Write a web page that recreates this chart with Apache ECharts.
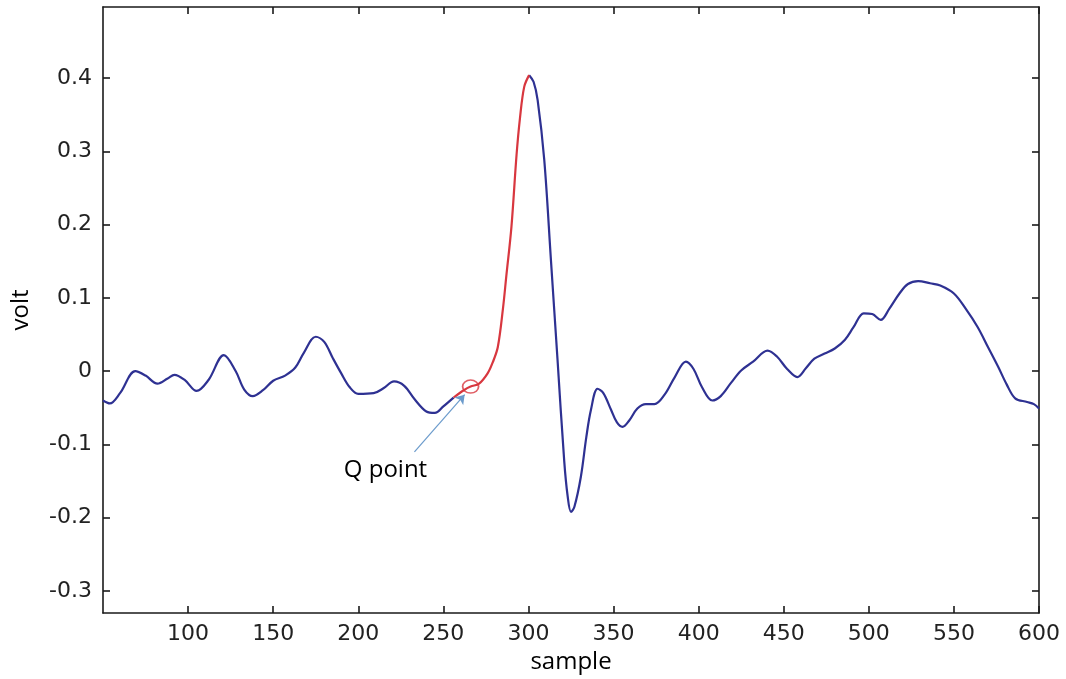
<!DOCTYPE html>
<html>
<head>
<meta charset="utf-8">
<script src="https://cdn.jsdelivr.net/npm/echarts@6/dist/echarts.min.js"></script>
<style>html,body{margin:0;padding:0;background:#fff;}#c{width:1066px;height:679px;}</style>
</head>
<body>
<div id="c"></div>
<script>
// sample index
const samples = [50,54,60,69,75,82,88,92,98,105,112,121,128,133,138,144,150,157,163,168,175,180,185,190,195,200,209,215,221,227,233,240,245,250,256,262,266,271,276,279,282,285,287,290,293,295,297.5,300.4,303,305.4,309.3,313.2,317.1,321,323,325,327,330.8,334,336.7,340.6,344,348.4,352,355.3,359,364,369,374,380,386,392.5,397,402,408,413,419,425,432,440.5,446,452,458,463,468,474,480,486,491,497,502,507,512,518,523,529,536,542,550,557,564,570,576,581,586,593,597,600];
// voltage
const volts = [-0.040,-0.044,-0.030,0.000,-0.006,-0.017,-0.010,-0.005,-0.012,-0.027,-0.012,0.022,0.000,-0.025,-0.034,-0.026,-0.013,-0.006,0.005,0.025,0.047,0.040,0.018,-0.003,-0.022,-0.031,-0.030,-0.023,-0.014,-0.020,-0.038,-0.055,-0.057,-0.048,-0.036,-0.026,-0.021,-0.017,-0.003,0.012,0.033,0.085,0.130,0.197,0.295,0.345,0.388,0.404,0.395,0.370,0.288,0.152,0.015,-0.122,-0.170,-0.192,-0.185,-0.144,-0.090,-0.053,-0.024,-0.030,-0.052,-0.070,-0.076,-0.068,-0.051,-0.045,-0.045,-0.032,-0.008,0.013,0.003,-0.022,-0.040,-0.034,-0.016,0.001,0.013,0.028,0.020,0.003,-0.008,0.004,0.017,0.024,0.031,0.043,0.060,0.079,0.078,0.070,0.085,0.106,0.119,0.123,0.120,0.117,0.106,0.085,0.060,0.033,0.006,-0.018,-0.037,-0.042,-0.045,-0.051];
// highlighted Q-to-R segment
const segmentStart = 256;
const segmentEnd = 300.4;
// Q point
const qPoint = [266, -0.021];
const qLabel = 'Q point';
const qLabelPos = [216, -0.135];
const qArrowFrom = [233, -0.110];
const qArrowTo = [262.5, -0.032];
// ticks
const xTicks = [100,150,200,250,300,350,400,450,500,550,600];
const yTicks = [-0.3,-0.2,-0.1,0,0.1,0.2,0.3,0.4];
const xRange = [50, 600];
const yRange = [-0.33, 0.497];

const allData = samples.map((s,i)=>[s, volts[i]]);
const before = allData.filter(d => d[0] <= segmentStart);
const segData = allData.filter(d => d[0] >= segmentStart && d[0] <= segmentEnd);
const after = allData.filter(d => d[0] >= segmentEnd);

const chart = echarts.init(document.getElementById('c'), null, {renderer:'canvas'});
const axisLine = {show:true, onZero:false, lineStyle:{color:'#1a1a1a', width:1.6}};
const tickStyle = {color:'#1a1a1a', width:1.6};
const tickFont = {fontFamily:'DejaVu Sans', fontSize:22, color:'#222'};
const blue = '#2e3192', red = '#d8373f';
chart.setOption({
  animation:false,
  backgroundColor:'#fff',
  grid:{left:103, right:27, top:7, bottom:66, containLabel:false},
  xAxis:[{
    type:'value', min:xRange[0], max:xRange[1], position:'bottom',
    name:'sample', nameLocation:'middle', nameGap:36,
    nameTextStyle:{fontFamily:'Open Sans', fontSize:24, color:'#000'},
    axisLine:axisLine,
    axisTick:{show:true, inside:true, length:7, customValues:xTicks, lineStyle:tickStyle},
    axisLabel:{show:true, customValues:xTicks, margin:10, fontFamily:tickFont.fontFamily, fontSize:tickFont.fontSize, color:tickFont.color},
    splitLine:{show:false}
  },{
    type:'value', min:xRange[0], max:xRange[1], position:'top',
    axisLine:axisLine,
    axisTick:{show:true, inside:true, length:7, customValues:xTicks, lineStyle:tickStyle},
    axisLabel:{show:false}, splitLine:{show:false}
  }],
  yAxis:[{
    type:'value', min:yRange[0], max:yRange[1], position:'left',
    name:'volt', nameLocation:'middle', nameGap:70, nameRotate:90,
    nameTextStyle:{fontFamily:'Open Sans', fontSize:24, color:'#000'},
    axisLine:axisLine,
    axisTick:{show:true, inside:true, length:7, customValues:yTicks, lineStyle:tickStyle},
    axisLabel:{show:true, customValues:yTicks, margin:11, fontFamily:tickFont.fontFamily, fontSize:tickFont.fontSize, color:tickFont.color},
    splitLine:{show:false}
  },{
    type:'value', min:yRange[0], max:yRange[1], position:'right',
    axisLine:axisLine,
    axisTick:{show:true, inside:true, length:7, customValues:yTicks, lineStyle:tickStyle},
    axisLabel:{show:false}, splitLine:{show:false}
  }],
  series:[
    {type:'line', data:before, smooth:0.35, showSymbol:false, lineStyle:{color:blue, width:2.2}, z:2,
     markLine:{silent:true, symbol:['none','arrow'], symbolSize:9, label:{show:false},
       lineStyle:{color:'#6b9bcc', width:1.2, type:'solid'},
       data:[[{coord:qArrowFrom},{coord:qArrowTo}]]}
    },
    {type:'line', data:segData, smooth:0.35, showSymbol:false, lineStyle:{color:red, width:2.2}, z:3},
    {type:'line', data:after, smooth:0.35, showSymbol:false, lineStyle:{color:blue, width:2.2}, z:2},
    {type:'scatter', data:[qPoint], symbol:'circle', symbolSize:[16,13],
     itemStyle:{color:'rgba(0,0,0,0)', borderColor:red, borderWidth:1.6}, z:4},
    {type:'scatter', data:[qLabelPos], symbolSize:0, itemStyle:{opacity:1},
     label:{show:true, formatter:qLabel, position:'inside', fontFamily:'Open Sans', fontSize:24, color:'#000', opacity:1}, z:5}
  ]
});
</script>
</body>
</html>
